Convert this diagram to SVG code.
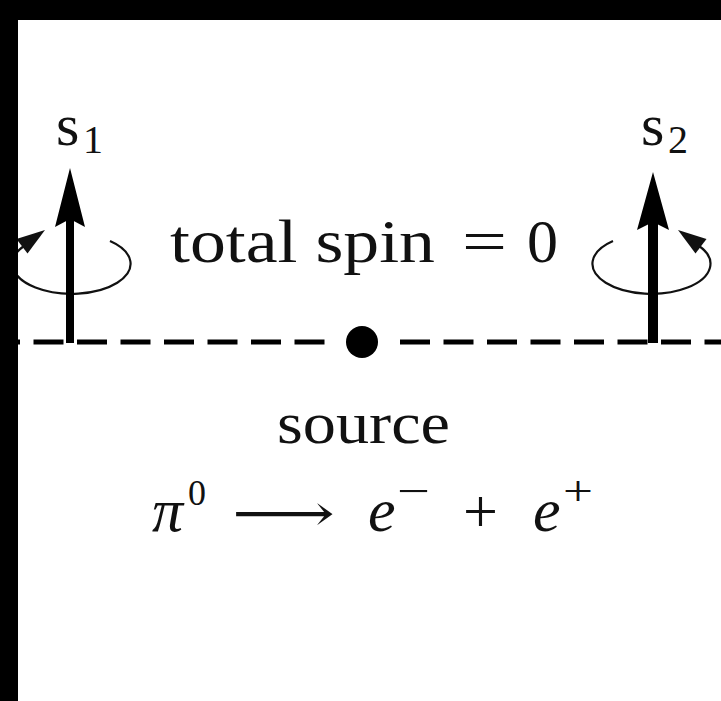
<svg xmlns="http://www.w3.org/2000/svg" width="721" height="701" viewBox="0 0 721 701">
<style>
.t{font-family:"Liberation Serif","Times New Roman",serif;fill:#111}
.i{font-family:"Liberation Serif","Times New Roman",serif;font-style:italic;fill:#111}
.rot{fill:none;stroke:#111;stroke-width:2.2}
.dash{stroke:#000;stroke-width:5;stroke-dasharray:30 13.5;fill:none}
</style>
<defs>
<clipPath id="page"><rect x="18" y="20" width="703" height="681"/></clipPath>
</defs>
<rect x="0" y="0" width="721" height="701" fill="#000"/>
<rect x="18" y="20" width="703" height="681" fill="#fff"/>
<g clip-path="url(#page)">
<g id="connectors">
<line class="dash" x1="-10" y1="342" x2="325" y2="342"/>
<line class="dash" x1="400" y1="342" x2="740" y2="342"/>
</g>
<g id="source-dot">
<circle cx="362" cy="342" r="16" fill="#000"/>
</g>
<g id="spin1">
<path class="rot" d="M110,241 A59,30 0 1 1 24,246"/>
<path d="M45,230 L27.5,253.4 L16.5,239 Z" fill="#111"/>
<rect x="66" y="215" width="8" height="128" fill="#000"/>
<path d="M70,168 L85,227 L70,219 L55,227 Z" fill="#000"/>
<text class="t" x="56" y="145" font-size="60">s</text>
<text class="t" x="83" y="153" font-size="40">1</text>
</g>
<g id="spin2">
<path class="rot" transform="translate(723,0) scale(-1,1)" d="M110,241 A59,30 0 1 1 24,246"/>
<path transform="translate(723,0) scale(-1,1)" d="M45,230 L27.5,253.4 L16.5,239 Z" fill="#111"/>
<rect x="648" y="218" width="10" height="125" fill="#000"/>
<path d="M653,172 L669,230 L653,222 L637,230 Z" fill="#000"/>
<text class="t" x="641" y="145" font-size="60">s</text>
<text class="t" x="668" y="153" font-size="40">2</text>
</g>
<g id="label-total">
<text class="t" x="170" y="262" font-size="62" textLength="265" lengthAdjust="spacingAndGlyphs">total spin</text>
<text class="t" x="462" y="262" font-size="62" textLength="45" lengthAdjust="spacingAndGlyphs">=</text>
<text class="t" x="527" y="262" font-size="62">0</text>
</g>
<g id="source">
<text class="t" x="277" y="443" font-size="60" textLength="173" lengthAdjust="spacingAndGlyphs">source</text>
</g>
<g id="reaction">
<text class="i" x="152" y="531" font-size="62">π</text>
<text class="t" x="188" y="505" font-size="36">0</text>
<text x="232" y="531" font-size="52" textLength="103" lengthAdjust="spacingAndGlyphs" style="font-family:'DejaVu Serif','DejaVu Sans',serif;fill:#111">⟶</text>
<text class="i" x="368" y="531" font-size="62">e</text>
<text class="t" x="397" y="505" font-size="42" textLength="33" lengthAdjust="spacingAndGlyphs">−</text>
<text class="t" x="463" y="532" font-size="62">+</text>
<text class="i" x="533" y="531" font-size="62">e</text>
<text class="t" x="563" y="505" font-size="42" textLength="30" lengthAdjust="spacingAndGlyphs">+</text>
</g>
</g>
</svg>
